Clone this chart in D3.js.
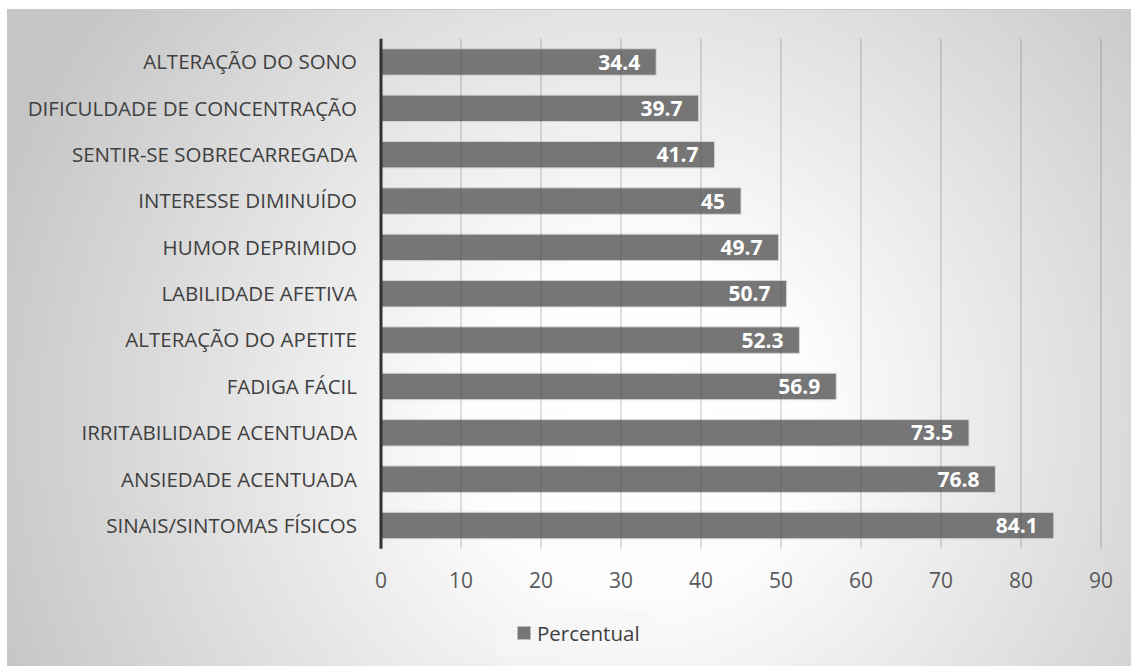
<!DOCTYPE html>
<html>
<head>
<meta charset="utf-8">
<script src="https://cdn.jsdelivr.net/npm/d3@7"></script>
<style>
	body { margin: 0; background: #ffffff; }
	svg { display: block; font-family: 'Open Sans', sans-serif; }
</style>
</head>
<body>
<svg id="chart"></svg>
<script>
// ========== DATA ==========
var categories = [
	'ALTERAÇÃO DO SONO',
	'DIFICULDADE DE CONCENTRAÇÃO',
	'SENTIR-SE SOBRECARREGADA',
	'INTERESSE DIMINUÍDO',
	'HUMOR DEPRIMIDO',
	'LABILIDADE AFETIVA',
	'ALTERAÇÃO DO APETITE',
	'FADIGA FÁCIL',
	'IRRITABILIDADE ACENTUADA',
	'ANSIEDADE ACENTUADA',
	'SINAIS/SINTOMAS FÍSICOS'
];
var values = [34.4, 39.7, 41.7, 45, 49.7, 50.7, 52.3, 56.9, 73.5, 76.8, 84.1];
var ticks = [0, 10, 20, 30, 40, 50, 60, 70, 80, 90];
var seriesName = 'Percentual';

// ========== CONSTANTS ==========
var width = 1131;
var height = 666;
var bar_color = '#767676';
var text_color = '#404040';
var tick_color = '#595959';

var svg = d3.select('svg#chart')
	.attr('width', width)
	.attr('height', height);

// background gradient
var defs = svg.append('defs');
var grad = defs.append('radialGradient')
	.attr('id', 'bg')
	.attr('gradientUnits', 'userSpaceOnUse')
	.attr('cx', 640)
	.attr('cy', 420)
	.attr('r', 680);
grad.append('stop').attr('offset', '0').attr('stop-color', '#ffffff');
grad.append('stop').attr('offset', '0.25').attr('stop-color', '#fdfdfd');
grad.append('stop').attr('offset', '1').attr('stop-color', '#c6c6c6');

svg.append('rect')
	.attr('x', 7.5)
	.attr('y', 9.5)
	.attr('width', width - 7)
	.attr('height', height - 9)
	.attr('fill', 'url(#bg)')
	.attr('stroke', '#c8c8c8')
	.attr('stroke-width', 1);

// scales
var x = d3.scaleLinear()
	.domain([0, 90])
	.range([381, 1101]);
var y = d3.scaleBand()
	.domain(categories)
	.range([38.8, 548.7])
	.paddingInner(0.43)
	.paddingOuter(0.215);

// bars
svg.selectAll('.bar')
	.data(values)
	.enter().append('rect')
	.attr('class', 'bar')
	.attr('x', x(0))
	.attr('y', function(d, i) { return y(categories[i]); })
	.attr('width', function(d) { return x(d) - x(0); })
	.attr('height', y.bandwidth())
	.attr('fill', bar_color)
	.attr('stroke', '#d4d4d4')
	.attr('stroke-width', 1);

// gridlines (drawn over the bars, semi transparent)
svg.selectAll('.grid')
	.data(ticks.slice(1))
	.enter().append('line')
	.attr('class', 'grid')
	.attr('x1', function(d) { return x(d); })
	.attr('x2', function(d) { return x(d); })
	.attr('y1', 38.8)
	.attr('y2', 548.7)
	.attr('stroke', '#4d4d4d')
	.attr('stroke-opacity', 0.35)
	.attr('stroke-width', 1);

// value labels
svg.selectAll('.val')
	.data(values)
	.enter().append('text')
	.attr('class', 'val')
	.attr('x', function(d) { return x(d) - 16; })
	.attr('y', function(d, i) { return y(categories[i]) + y.bandwidth() / 2; })
	.attr('dy', '0.36em')
	.attr('text-anchor', 'end')
	.attr('fill', '#ffffff')
	.style('font-size', '21px')
	.style('font-weight', 'bold')
	.text(function(d) { return d; });

// category labels
svg.selectAll('.cat')
	.data(categories)
	.enter().append('text')
	.attr('class', 'cat')
	.attr('x', 357)
	.attr('y', function(d) { return y(d) + y.bandwidth() / 2; })
	.attr('dy', '0.36em')
	.attr('text-anchor', 'end')
	.attr('fill', text_color)
	.style('font-size', '20.5px')
	.text(function(d) { return d; });

// vertical axis line
svg.append('line')
	.attr('x1', x(0))
	.attr('x2', x(0))
	.attr('y1', 38.8)
	.attr('y2', 548.7)
	.attr('stroke', '#333333')
	.attr('stroke-width', 3);

// x tick labels
svg.selectAll('.tick')
	.data(ticks)
	.enter().append('text')
	.attr('class', 'tick')
	.attr('x', function(d) { return x(d); })
	.attr('y', 587.5)
	.attr('text-anchor', 'middle')
	.attr('fill', tick_color)
	.style('font-size', '21px')
	.text(function(d) { return d; });

// legend
var legend = svg.append('g');
legend.append('rect')
	.attr('x', 497)
	.attr('y', 610)
	.attr('width', 156)
	.attr('height', 45)
	.attr('fill', '#f7f7f7')
	.attr('fill-opacity', 0.6);
legend.append('rect')
	.attr('x', 517.5)
	.attr('y', 626.5)
	.attr('width', 13)
	.attr('height', 13)
	.attr('fill', bar_color)
	.attr('stroke', '#bdbdbd')
	.attr('stroke-width', 1);
legend.append('text')
	.attr('x', 537)
	.attr('y', 640.5)
	.attr('fill', text_color)
	.style('font-size', '20.5px')
	.text(seriesName);
</script>
</body>
</html>
